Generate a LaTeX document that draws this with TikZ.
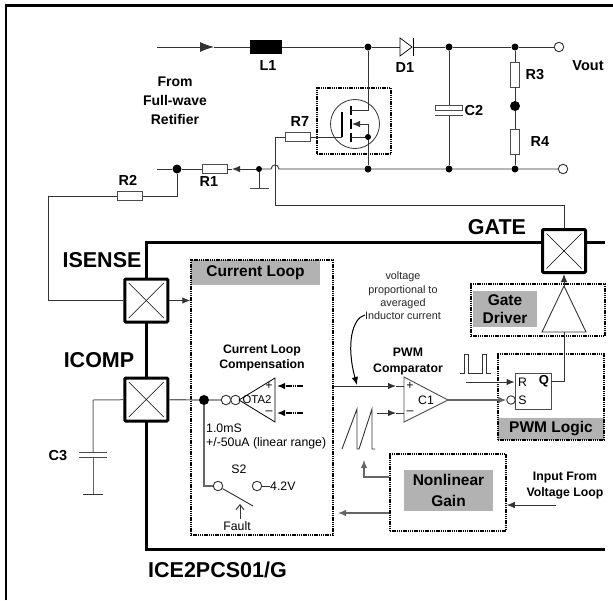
\documentclass[tikz,border=0pt]{standalone}
\usepackage{fontspec}
\setmainfont{Liberation Sans}
\usetikzlibrary{arrows.meta}
\tikzset{
    wire/.style={line width=0.9pt,color=black!80},
    greywire/.style={line width=1.2pt,color=black!60},
    tip/.style={-{Latex[length=8pt,width=6.5pt]}},
    bigtip/.style={-{Latex[length=14pt,width=10pt]}},
    chip/.style={line width=3pt,color=black},
    dot/.style={circle,fill=black,inner sep=0pt,minimum size=7pt},
    bigdot/.style={circle,fill=black,inner sep=0pt,minimum size=10pt},
    term/.style={circle,draw=black!80,line width=0.9pt,fill=white,inner sep=0pt,minimum size=9.5pt},
    res/.style={draw=black!70,line width=0.9pt,fill=white,inner sep=0pt,minimum width=25pt,minimum height=9pt},
    vres/.style={draw=black!70,line width=0.9pt,fill=white,inner sep=0pt,minimum width=9pt,minimum height=25pt},
    pad/.style={draw=black,line width=3pt,fill=white,rounded corners=1pt,inner sep=0pt,minimum size=43pt,
        path picture={
            \draw[line width=0.6pt] ([xshift=4pt,yshift=-4pt]path picture bounding box.north west) -- ([xshift=-4pt,yshift=4pt]path picture bounding box.south east);
            \draw[line width=0.6pt] ([xshift=-4pt,yshift=-4pt]path picture bounding box.north east) -- ([xshift=4pt,yshift=4pt]path picture bounding box.south west);
        }},
    dotbox/.style={draw=black,line width=1.5pt,dash pattern=on 1.4pt off 0.8pt,inner sep=0pt},
    greybox/.style={fill=black!30,inner sep=0pt},
    huge/.style={font=\fontsize{21.5}{24}\selectfont\bfseries},
    head/.style={font=\fontsize{15.5}{19}\selectfont\bfseries,align=center},
    tag/.style={font=\fontsize{14.5}{19}\selectfont\bfseries,align=center},
    small/.style={font=\fontsize{12.3}{15.5}\selectfont\bfseries,align=center},
    plain/.style={font=\fontsize{12.3}{15}\selectfont,inner sep=0pt},
    tiny/.style={font=\fontsize{10.8}{13.4}\selectfont,align=center,color=black!85},
}
\begin{document}
\begin{tikzpicture}[x=1pt,y=-1pt]
    \useasboundingbox (0,0) rectangle (613,600);
    \fill[white] (0,0) rectangle (613,600);
    \draw[line width=2.2pt] (6,600) -- (6,5.5) -- (613,5.5);

    \node[bigdot,minimum size=0pt] (in) at (157,47) {};
    \coordinate (intip) at (214,47);
    \node[fill=black,inner sep=0pt,minimum width=32pt,minimum height=14pt] (l1) at (266,47) {};
    \node[dot] (n1) at (368,47) {};
    \coordinate (d1a) at (400,47);
    \coordinate (d1k) at (413,47);
    \node[dot] (n2) at (449,47) {};
    \node[dot] (n3) at (515,47) {};
    \node[term] (vouttop) at (559,47) {};
    \draw[wire,bigtip] (in) -- (intip);
    \draw[wire] (intip) -- (l1) -- (n1) -- (d1a);
    \draw[wire] (d1k) -- (n2) -- (n3) -- (vouttop);
    \draw[line width=0.7pt,fill=white] (d1a |- 0,38) -- (412,47) -- (d1a |- 0,56) -- cycle;
    \draw[line width=0.9pt] (413,38) -- (413,56);

    \node[vres] (r3) at (515,74.5) {};
    \node[bigdot] (n4) at (515,106) {};
    \node[vres] (r4) at (515,142) {};
    \node[dot] (n5) at (515,169) {};
    \draw[wire] (n3) -- (r3) -- (n4) -- (r4) -- (n5);
    \node[dot] (n6) at (449,169) {};
    \node[draw=black!70,line width=0.9pt,fill=white,inner sep=0pt,minimum width=27pt,minimum height=4.5pt] (c2) at (449,108) {};
    \coordinate (c2b) at (449,115);
    \draw[wire] (n2) -- (c2);
    \draw[wire] (c2b) -- (n6);
    \draw[line width=1pt,color=black!70] (435,115) -- (463,115);
    \node[term] (voutbot) at (563,169) {};

    \node[dot] (n7) at (368,169) {};
    \node[dot,minimum size=6pt] (n8) at (259,169) {};
    \node[bigdot,minimum size=9pt] (n9) at (177,169) {};
    \node[res] (r1) at (214.5,169) {};
    \coordinate (lowin) at (157,169);
    \coordinate (gnd1) at (259,188);
    \draw[wire] (voutbot) -- (n5) -- (n6) -- (n7) -- (279,169) .. controls (278,163.5) and (272,163.5) .. (271,169) -- (n8);
    \draw[wire,tip] (n8) -- (232,169);
    \draw[wire] (232,169) -- (r1) -- (n9) -- (lowin);
    \draw[wire] (n8) -- (gnd1);
    \draw[line width=1pt,color=black!70] (250,188) -- (269,188);

    \node[dotbox,minimum width=74pt,minimum height=66pt] (qbox) at (354,121) {};
    \node[circle,draw=black!80,line width=0.8pt,inner sep=0pt,minimum size=49pt] (q1) at (355,124) {};
    \node[dot,minimum size=6pt] (n10) at (368,137) {};
    \node[res] (r7) at (297.5,137) {};
    \coordinate (gateup) at (275,137);
    \coordinate (gateturn) at (275,205);
    \coordinate (qgate) at (342,137);
    \draw[wire] (qgate) -- (r7) -- (gateup) -- (gateturn) -- (564,205);
    \draw[line width=1.2pt] (342,112) -- (qgate);
    \draw[line width=1.2pt] (351,106) -- (351,115);
    \draw[line width=1.2pt] (351,119) -- (351,129);
    \draw[line width=1.2pt] (351,133) -- (351,142);
    \draw[wire] (351,110) -- (368,110) -- (n1);
    \draw[wire,tip] (368,124) -- (352,124);
    \draw[wire] (368,124) -- (n10) -- (n7);
    \draw[wire] (351,137) -- (n10);

    \node[res] (r2) at (130,196) {};
    \coordinate (r2turn) at (177,196);
    \coordinate (senseturn) at (48,196);
    \coordinate (sensein) at (48,300.5);

    \draw[chip] (605,242) -- (146,242) -- (146,549) -- (605,549);
    \node[pad] (isense) at (146.3,300.5) {};
    \node[pad] (icomp) at (146.3,399.5) {};
    \node[pad] (gate) at (564,251) {};
    \draw[wire] (n9) -- (r2turn) -- (r2) -- (senseturn) -- (sensein) -- (isense);
    \draw[wire] (564,205) -- (gate);

    \node[dot,minimum size=0pt] (c3top) at (93,400) {};
    \coordinate (c3a) at (93,452);
    \coordinate (c3b) at (93,457);
    \coordinate (gnd2) at (93,494);
    \draw[greywire,line width=1pt] (icomp) -- (c3top) -- (c3a);
    \draw[greywire,line width=1pt] (c3b) -- (gnd2);
    \draw[line width=1pt,color=black!70] (79,452) -- (107,452);
    \draw[line width=1pt,color=black!70] (79,457) -- (107,457);
    \draw[line width=1.1pt,color=black!80] (83,494.5) -- (103,494.5);

    \node[greybox,minimum width=129pt,minimum height=25pt,head] (looptxt) at (255.5,272.5) {Current Loop};
    \node[dotbox,minimum width=142pt,minimum height=275pt] (loopbox) at (262,397.5) {};
    \draw[wire,tip] (isense) -- (loopbox.west |- isense);

    \node[bigdot] (n11) at (204,400) {};
    \node[term] (o1) at (226,400) {};
    \node[term] (o2) at (235.5,400) {};
    \draw[greywire] (icomp) -- (n11) -- (o1);
    \draw[line width=0.8pt,fill=white] (275,378) -- (239,400) -- (275,422) -- cycle;
    \node[plain,font=\fontsize{11.3}{14}\selectfont] (ota) at (257,400) {OTA2};
    \node[plain] (otap) at (269,386) {+};
    \node[plain] (otam) at (269,413) {--};
    \coordinate (otaa) at (303,386);
    \coordinate (otab) at (303,413);
    \draw[line width=1.3pt,dash pattern=on 1.6pt off 0.6pt,tip] (otaa) -- (277,386);
    \draw[line width=1.3pt,dash pattern=on 1.6pt off 0.6pt,tip] (otab) -- (277,413);

    \node[term] (s2a) at (218,486) {};
    \node[term] (s2b) at (257,486) {};
    \coordinate (s2turn) at (204,486);
    \coordinate (s2end) at (253,506);
    \coordinate (v42) at (270,486);
    \draw[greywire] (n11) -- (s2turn) -- (s2a);
    \draw[wire] (s2a) -- (s2end);
    \draw[wire] (s2b) -- (v42);
    \node[plain,anchor=west] (v42txt) at (v42) {4.2V};
    \node[plain] (s2txt) at (239,469) {S2};
    \node[plain] (faulttxt) at (237,526.5) {Fault};
    \draw[wire,-{Straight Barb[length=5pt,width=8pt]}] (240,519) -- (240,504);
    \node[plain,anchor=west] (gmtxt) at (206,428) {1.0mS};
    \node[plain,anchor=west] (rangetxt) at (206,443) {+/-50uA (linear range)};
    \node[small] (comptxt) at (262,358) {Current Loop\\Compensation};

    \draw[line width=0.9pt,draw=black!70,fill=white] (404,377) -- (448,400) -- (404,422) -- cycle;
    \node[plain] (c1txt) at (426,400) {C1};
    \node[plain] (cmpp) at (410,386) {+};
    \node[plain] (cmpm) at (410,413) {--};
    \coordinate (cmpa) at (404,386);
    \coordinate (cmpb) at (404,413);
    \coordinate (cmpc) at (377,413);
    \draw[wire,tip] (loopbox.east |- cmpa) -- (396,386);
    \draw[wire] (396,386) -- (cmpa);
    \draw[wire,tip] (cmpc) -- (396,413);
    \draw[wire] (396,413) -- (cmpb);
    \node[small] (pwmtxt) at (408,361.5) {PWM\\Comparator};
    \node[tiny] (volttxt) at (403,296) {voltage\\proportional to\\averaged\\Inductor current};
    \draw[line width=1pt,tip] (365,315) .. controls (352,318) and (346,345) .. (357,385);

    \draw[wire] (342,449) -- (357,409) -- (357,449) -- (359,449) -- (372,409) -- (372,449) -- (375,449);

    \node[dotbox,minimum width=116pt,minimum height=77pt] (nlbox) at (448,492.5) {};
    \node[greybox,minimum width=89pt,minimum height=41pt,font=\fontsize{15.5}{20.5}\selectfont\bfseries,align=center] (nltxt) at (448.5,490.5) {Nonlinear\\Gain};
    \coordinate (nlturn) at (364,477);
    \draw[greywire,tip] (nlbox.west |- nlturn) -- (nlturn) -- (364,460);
    \draw[greywire,tip] (nlbox.west |- 0,513) -- (338,513);
    \node[small] (inputtxt) at (565,485.5) {Input From\\Voltage Loop};
    \draw[wire,tip] (556,505) -- (nlbox.east |- 0,505);

    \node[greybox,minimum width=106pt,minimum height=22pt,head] (logictxt) at (551,429) {PWM Logic};
    \node[dotbox,minimum width=106pt,minimum height=86pt] (logicbox) at (551,397) {};
    \node[draw=black!70,line width=0.9pt,fill=white,inner sep=0pt,minimum width=36pt,minimum height=36pt] (ff) at (533,391) {};
    \node[plain] (rtxt) at (522.5,382) {R};
    \node[plain] (stxt) at (522.5,400) {S};
    \node[small,font=\fontsize{13}{15}\selectfont\bfseries] (qtxt) at (544,381) {Q};
    \coordinate (ffq) at (564,381);
    \coordinate (ffr) at (466,382);
    \draw[wire,tip] (ffr) -- (ff.west |- ffr);
    \node[term,minimum size=8.5pt] (ffs) at (511,400) {};
    \draw[greywire,tip] (448,400) -- (ffs.west);

    \draw[wire] (460,373) -- (464,373) -- (464,354) -- (468,354) -- (468,373) -- (482,373) -- (482,354) -- (486,354) -- (486,373) -- (491,373);

    \node[dotbox,minimum width=134pt,minimum height=52pt] (drvbox) at (538,310) {};
    \node[greybox,minimum width=64pt,minimum height=36pt,font=\fontsize{15.5}{18}\selectfont\bfseries,align=center] (drvtxt) at (505,309) {Gate\\Driver};
    \draw[line width=0.9pt,draw=black!80,fill=white] (542,332) -- (564,286) -- (586,332) -- cycle;
    \draw[wire] (ff.east |- ffq) -- (ffq) -- (564,332);
    \draw[wire,tip] (564,286) -- (gate);

    \node[huge] (isensetxt) at (102,260) {ISENSE};
    \node[huge] (icomptxt) at (99,360) {ICOMP};
    \node[huge] (gatetxt) at (497,227) {GATE};
    \node[huge,anchor=west,inner sep=0pt] (chiptxt) at (148,570) {ICE2PCS01/G};
    \node[tag] (l1txt) at (268,66) {L1};
    \node[tag] (d1txt) at (405,68) {D1};
    \node[tag] (r1txt) at (209,182) {R1};
    \node[tag] (r2txt) at (128,180) {R2};
    \node[tag] (r3txt) at (535,75) {R3};
    \node[tag] (r4txt) at (540,142) {R4};
    \node[tag] (r7txt) at (300,122) {R7};
    \node[tag] (c2txt) at (474,111) {C2};
    \node[tag] (c3txt) at (58,456) {C3};
    \node[tag] (vouttxt) at (588,66) {Vout};
    \node[tag,font=\fontsize{14}{19}\selectfont\bfseries] (srctxt) at (175,101) {From\\Full-wave\\Retifier};
\end{tikzpicture}
\end{document}
